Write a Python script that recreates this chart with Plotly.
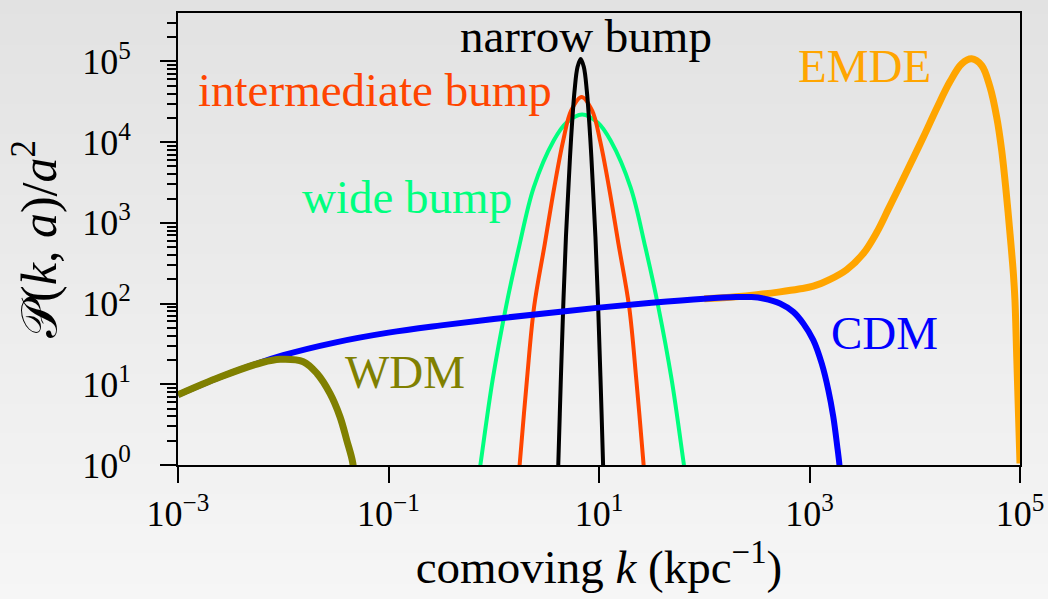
import numpy as np
import plotly.graph_objects as go

# ---- data (log10 k [kpc^-1], log10 P/a^2) ----
cdm_logk = [-3.0, -2.5, -2.0, -1.5, -1.0, -0.5, 0.0, 0.5, 1.0, 1.5, 2.0, 2.3, 2.45,
            2.561, 2.72, 2.846, 2.941, 3.036, 3.116, 3.179, 3.226, 3.264, 3.283, 3.30]
cdm_logP = [0.87, 1.14, 1.36, 1.52, 1.64, 1.73, 1.81, 1.88, 1.95, 2.01, 2.06, 2.08, 2.08,
            2.063, 2.001, 1.897, 1.753, 1.547, 1.258, 0.928, 0.598, 0.226, 0.02, -0.25]

wdm_logk = [-3.0, -2.6, -2.2, -2.03, -1.81, -1.68, -1.556, -1.461, -1.397, -1.34, -1.32]
wdm_logP = [0.87, 1.09, 1.27, 1.31, 1.28, 1.135, 0.887, 0.598, 0.309, 0.03, -0.25]

emde_logk = [2.0, 2.3, 2.5, 2.72, 2.9, 3.036, 3.195, 3.353, 3.511, 3.638, 3.749, 3.828, 3.955,
             4.081, 4.209, 4.335, 4.446, 4.541, 4.636, 4.715, 4.779, 4.826, 4.867, 4.905,
             4.937, 4.952, 4.969, 5.0]
emde_logP = [2.06, 2.085, 2.11, 2.145, 2.18, 2.215, 2.30, 2.42, 2.62, 2.88, 3.17, 3.38, 3.72,
             4.06, 4.42, 4.75, 4.97, 5.033, 4.950, 4.682, 4.307, 3.898, 3.403, 2.867,
             2.373, 2.042, 1.340, 0.02]

narrow_logk = [0.60, 0.613, 0.636, 0.660, 0.686, 0.712, 0.735, 0.768, 0.796, 0.826, 0.856,
               0.884, 0.917, 0.940, 0.966, 0.992, 1.016, 1.039, 1.05]
narrow_logP = [-0.55, 0.0, 1.0, 1.96, 2.83, 3.50, 4.05, 4.64, 4.93, 5.03, 4.93,
               4.64, 4.05, 3.50, 2.83, 1.96, 1.0, 0.0, -0.55]

inter_logk = [0.225, 0.246, 0.315, 0.3835, 0.485, 0.575, 0.66, 0.735, 0.835, 0.935, 1.01,
              1.095, 1.185, 1.2865, 1.355, 1.424, 1.445]
inter_logP = [-0.35, 0.0, 1.05, 1.96, 2.74, 3.44, 4.02, 4.39, 4.56, 4.39, 4.02,
              3.44, 2.74, 1.96, 1.05, 0.0, -0.35]

wide_logk = [-0.16, -0.127, -0.01, 0.1165, 0.24, 0.38, 0.57, 0.69, 0.84, 0.99, 1.11,
             1.30, 1.44, 1.5635, 1.69, 1.807, 1.84]
wide_logP = [-0.3, 0.0, 1.06, 1.96, 2.70, 3.44, 4.02, 4.24, 4.344, 4.24, 4.02,
             3.44, 2.70, 1.96, 1.06, 0.0, -0.3]

x_tickvals = [1e-3, 1e-1, 1e1, 1e3, 1e5]
x_ticktext = ["10<sup>\u22123</sup>", "10<sup>\u22121</sup>", "10<sup>1</sup>", "10<sup>3</sup>", "10<sup>5</sup>"]
y_tickvals = [1e0, 1e1, 1e2, 1e3, 1e4, 1e5]
y_ticktext = ["10<sup>0</sup>", "10<sup>1</sup>", "10<sup>2</sup>", "10<sup>3</sup>", "10<sup>4</sup>", "10<sup>5</sup>"]

FONT = "Liberation Serif"


def tolin(a):
    return [10.0 ** v for v in a]


series = [
    ("EMDE", emde_logk, emde_logP, "#ffa500", 7),
    ("wide bump", wide_logk, wide_logP, "#00ff7f", 4),
    ("intermediate bump", inter_logk, inter_logP, "#ff4500", 4),
    ("narrow bump", narrow_logk, narrow_logP, "#000000", 4),
    ("CDM", cdm_logk, cdm_logP, "#0000ff", 6),
    ("WDM", wdm_logk, wdm_logP, "#808000", 7),
]

fig = go.Figure()
for name, lk, lp, col, w in series:
    fig.add_trace(go.Scatter(x=tolin(lk), y=tolin(lp), mode="lines", name=name,
                             line=dict(color=col, width=w, shape="spline", smoothing=1.0),
                             showlegend=False, hoverinfo="skip"))

# ---- background: vertical light-grey gradient over the whole canvas ----
W, H = 1048, 599
L_, R_, T_, B_ = 178, 28, 13, 134
pw, ph = W - L_ - R_, H - T_ - B_
shapes = []
nb = 120
top_c, bot_c = np.array([226, 226, 226]), np.array([246, 246, 246])
for i in range(nb):
    p0 = i * H / nb
    p1 = (i + 1) * H / nb
    t = (p0 + p1) / 2 / H
    c = top_c + (bot_c - top_c) * t
    shapes.append(dict(type="rect", xref="paper", yref="paper", layer="below",
                       x0=-L_ / pw - 0.01, x1=1 + R_ / pw + 0.01,
                       y0=(H - B_ - p1) / ph - 0.001, y1=(H - B_ - p0) / ph + 0.001,
                       line=dict(width=0),
                       fillcolor="rgb(%d,%d,%d)" % tuple(int(round(v)) for v in c)))

minor_y = [m * 10 ** n for n in range(0, 6) for m in range(2, 10) if m * 10 ** n < 10 ** 5.6]

# annotation labels (positions in axis log units)
labels = [
    ("narrow bump", 0.876, 5.32, "#000000"),
    ("intermediate bump", -1.125, 4.64, "#ff4500"),
    ("wide bump", -0.822, 3.32, "#00ff7f"),
    ("EMDE", 3.524, 4.94, "#ffa500"),
    ("CDM", 3.717, 1.64, "#0000ff"),
    ("WDM", -0.848, 1.15, "#808000"),
]
annotations = [dict(text=t, x=x, y=y, xref="x", yref="y", showarrow=False,
                    xanchor="center", yanchor="middle",
                    font=dict(family=FONT, size=47, color=c)) for t, x, y, c in labels]

fig.update_layout(
    width=W, height=H,
    margin=dict(l=L_, r=R_, t=T_, b=B_, pad=0),
    paper_bgcolor="rgb(236,236,236)",
    plot_bgcolor="rgba(0,0,0,0)",
    shapes=shapes,
    annotations=annotations,
    font=dict(family=FONT, color="#000000"),
    xaxis=dict(type="log", range=[-3, 5], showgrid=False, zeroline=False, automargin=False,
               showline=True, linecolor="#000000", linewidth=2, mirror=True,
               ticks="outside", ticklen=16, tickwidth=2, tickcolor="#000000",
               tickmode="array", tickvals=x_tickvals, ticktext=x_ticktext,
               tickfont=dict(family=FONT, size=36),
               title=dict(text="comoving <i>k</i> (kpc<sup>\u22121</sup>)",
                          font=dict(family=FONT, size=47), standoff=12)),
    yaxis=dict(type="log", range=[0, 5.6], showgrid=False, zeroline=False, automargin=False,
               showline=True, linecolor="#000000", linewidth=2, mirror=True,
               ticks="outside", ticklen=16, tickwidth=2, tickcolor="#000000",
               tickmode="array", tickvals=y_tickvals, ticktext=y_ticktext,
               tickfont=dict(family=FONT, size=36), ticklabelstandoff=22,
               minor=dict(ticks="outside", ticklen=9, tickwidth=1.5, tickcolor="#000000",
                          tickmode="array", tickvals=minor_y, showgrid=False),
               title=dict(text="\U0001D4AB(<i>k</i>, <i>a</i>)/<i>a</i><sup>2</sup>",
                          font=dict(family=FONT, size=50), standoff=10)),
)

fig.write_html("out.html")
